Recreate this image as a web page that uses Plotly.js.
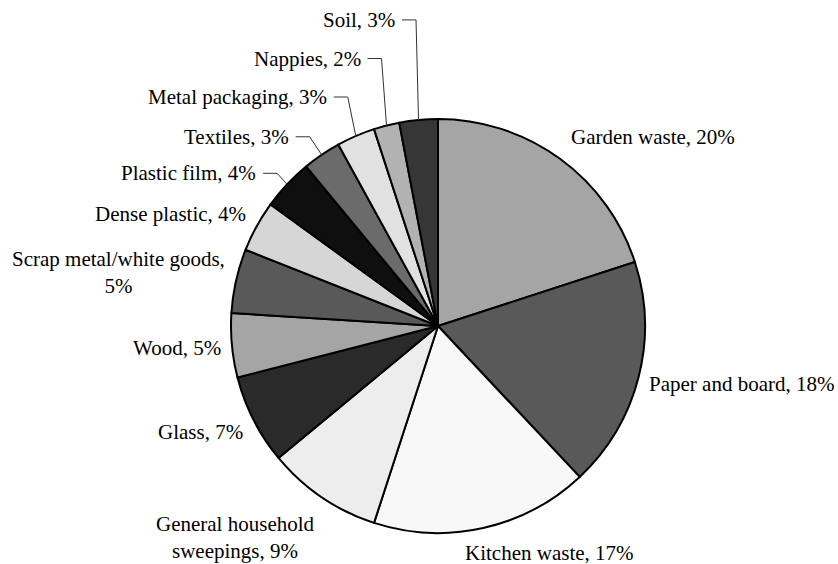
<!DOCTYPE html>
<html>
<head>
<meta charset="utf-8">
<script src="https://cdn.plot.ly/plotly-3.0.1.min.js"></script>
<style>html,body{margin:0;padding:0;background:#fff;}#chart{width:838px;height:564px;}</style>
</head>
<body>
<div id="chart"></div>
<script>
// ---- data ----
const categories = ["Garden waste", "Paper and board", "Kitchen waste", "General household sweepings",
  "Glass", "Wood", "Scrap metal/white goods", "Dense plastic", "Plastic film", "Textiles",
  "Metal packaging", "Nappies", "Soil"];
const shares = [20, 18, 17, 9, 7, 5, 5, 4, 4, 3, 3, 2, 3];
const labelTexts = ["Garden waste, 20%", "Paper and board, 18%", "Kitchen waste, 17%",
  "General household<br>sweepings, 9%", "Glass, 7%", "Wood, 5%", "Scrap metal/white goods,<br>5%",
  "Dense plastic, 4%", "Plastic film, 4%", "Textiles, 3%", "Metal packaging, 3%", "Nappies, 2%", "Soil, 3%"];
const sliceColors = ["#a5a5a5", "#595959", "#f8f8f8", "#ededed", "#2a2a2a", "#a5a5a5", "#595959",
  "#d6d6d6", "#0f0f0f", "#6b6b6b", "#e1e1e1", "#b2b2b2", "#363636"];

// ---- layout geometry ----
const W = 838, H = 564;
const margin = {l: 231, r: 193, t: 119, b: 31};
const plotW = W - margin.l - margin.r, plotH = H - margin.t - margin.b;
const R = Math.min(plotW, plotH) / 2;
const cx = margin.l + plotW / 2, cy = margin.t + plotH / 2;
const px2x = p => (p - margin.l) / plotW;
const py2y = p => 1 - (p - margin.t) / plotH;

// label placement styling (not data)
const gap = 9;
const nudges = {"Kitchen waste": {left: -20}, "General household sweepings": {dx: 4, dy: 7}};
const leaders = { // lift above slice edge, elbow offset from edge point
  "Plastic film": {lift: 11, elbow: -10},
  "Textiles": {lift: 18, elbow: -12},
  "Metal packaging": {lift: 39, elbow: -8},
  "Nappies": {lift: 67, elbow: -5},
  "Soil": {lift: 100, elbow: -2.5}
};

const total = shares.reduce((a, b) => a + b, 0);
const annotations = [], shapes = [];
let cum = 0;
const font = {family: "Liberation Serif, Times New Roman, serif", size: 21, color: "#000"};
categories.forEach((cat, i) => {
  const mid = (cum + shares[i] / 2) / total * 2 * Math.PI;
  cum += shares[i];
  const s = Math.sin(mid), c = Math.cos(mid);
  const ex = cx + R * s, ey = cy - R * c;
  const lines = labelTexts[i].split("<br>").length;
  const halfH = lines > 1 ? 27.5 : 13;
  const ann = {text: labelTexts[i], showarrow: false, xref: "paper", yref: "paper",
    yanchor: "middle", align: "center", font: font};
  if (leaders[cat]) {
    const L = leaders[cat];
    const rowY = ey - L.lift;
    const elbowX = ex + L.elbow;
    const startX = elbowX - 14;
    shapes.push({type: "line", xref: "paper", yref: "paper", x0: px2x(startX), y0: py2y(rowY),
      x1: px2x(elbowX), y1: py2y(rowY), line: {color: "#333", width: 1}});
    shapes.push({type: "line", xref: "paper", yref: "paper", x0: px2x(elbowX), y0: py2y(rowY),
      x1: px2x(ex), y1: py2y(ey), line: {color: "#333", width: 1}});
    ann.x = px2x(startX - 5); ann.xanchor = "right"; ann.y = py2y(rowY);
  } else {
    const n = nudges[cat] || {};
    let lx, xa;
    if (n.left !== undefined) { lx = ex + n.left; xa = "left"; }
    else if (s > 0) { lx = ex + gap; xa = "left"; }
    else { lx = ex - gap; xa = "right"; }
    lx += n.dx || 0;
    const ly = ey - c * (13 + halfH) + (n.dy || 0);
    ann.x = px2x(lx); ann.xanchor = xa; ann.y = py2y(ly);
  }
  annotations.push(ann);
});

const trace = {
  type: "pie", labels: categories, values: shares, sort: false, direction: "clockwise",
  rotation: 0, textinfo: "none", hoverinfo: "label+percent",
  marker: {colors: sliceColors, line: {color: "#000", width: 2}}
};

Plotly.newPlot("chart", [trace], {
  width: W, height: H, margin: Object.assign({pad: 0}, margin), showlegend: false,
  paper_bgcolor: "#fff", plot_bgcolor: "#fff", annotations: annotations, shapes: shapes
}, {displayModeBar: false, staticPlot: true});
</script>
</body>
</html>
